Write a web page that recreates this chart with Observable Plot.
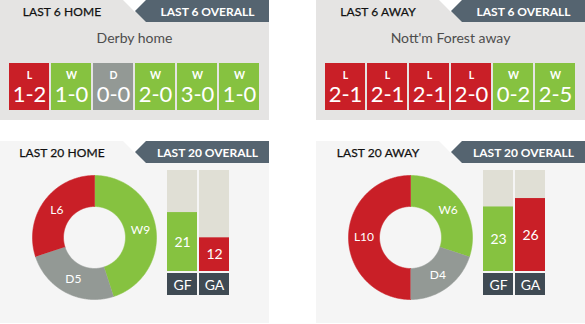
<!DOCTYPE html>
<html><head><meta charset="utf-8">
<script src="https://cdn.jsdelivr.net/npm/d3@7"></script>
<script src="https://cdn.jsdelivr.net/npm/@observablehq/plot@0.6"></script>
<style>
body{margin:0;background:#fff;font-family:Lato,"Open Sans",sans-serif;}
#root{position:relative;width:585px;height:324px;overflow:hidden;background:#fff;}
.panel{position:absolute;width:269px;}
.top{top:0;height:120px;background:#e5e4e3;}
.bottom{top:141px;height:182px;background:#f5f5f5;}
.notch{position:absolute;left:123px;top:0;width:23px;height:12px;background:#fff;clip-path:polygon(0 0,100% 0,52% 100%);}
.tab{position:absolute;left:135px;top:0;width:134px;height:22px;background:#556470;clip-path:polygon(0 50%,11px 0,100% 0,100% 100%,11px 100%);}
.tabtxt{position:absolute;left:146px;width:123px;top:6px;line-height:12px;font-size:12px;font-weight:700;color:#fff;text-align:center;white-space:nowrap;}
.ltab{position:absolute;left:0;width:124px;top:6px;line-height:12px;font-size:12px;font-weight:400;color:#111;text-align:center;white-space:nowrap;letter-spacing:0.1px;-webkit-text-stroke:0.25px #111;}
.sub{position:absolute;left:0;width:269px;top:31px;line-height:14px;font-size:14px;color:#4d4d4d;text-align:center;}
.slot{position:absolute;}
</style>
</head><body>
<div id="root"></div>
<script>
// ---- data ----
const topLeftTitle = "LAST 6 HOME", topRightTitle = "LAST 6 AWAY", topTab = "LAST 6 OVERALL";
const bottomLeftTitle = "LAST 20 HOME", bottomRightTitle = "LAST 20 AWAY", bottomTab = "LAST 20 OVERALL";
const homeTeam = "Derby home", awayTeam = "Nott'm Forest away";
const homeResults = ["L","W","D","W","W","W"];
const homeScores = ["1-2","1-0","0-0","2-0","3-0","1-0"];
const awayResults = ["L","L","L","L","W","W"];
const awayScores = ["2-1","2-1","2-1","2-0","0-2","2-5"];
const outcomeKeys = ["W","D","L"];
const homeLast20 = [9,5,6];
const awayLast20 = [6,4,10];
const goalKeys = ["GF","GA"];
const homeGoals = [21,12];
const awayGoals = [23,26];
const goalMax = 36;

// ---- styles ----
const GREEN = "#86c240", RED = "#c91f27", GREY = "#939995";
const outcomeColor = {domain: outcomeKeys, range: [GREEN, GREY, RED]};
const baseStyle = {background: "transparent", fontFamily: "Lato, 'Open Sans', sans-serif", overflow: "visible"};

const root = document.getElementById("root");
function el(cls, parent, text) { const d = document.createElement("div"); d.className = cls; if (text != null) d.textContent = text; parent.appendChild(d); return d; }
function place(node, parent, left, top) { const s = el("slot", parent); s.style.left = left + "px"; s.style.top = top + "px"; s.appendChild(node); }

function panel(cls, left, title, tab) {
  const p = el("panel " + cls, root);
  p.style.left = left + "px";
  el("notch", p); el("tab", p); el("tabtxt", p, tab); el("ltab", p, title);
  return p;
}

function resultsPlot(results, scores) {
  const data = results.map((r, i) => ({i, r, s: scores[i]}));
  return Plot.plot({
    width: 269, height: 47, margin: 0, style: baseStyle,
    x: {type: "band", domain: d3.range(results.length), range: [9, 259], paddingInner: 0.048, paddingOuter: 0, axis: null},
    color: outcomeColor,
    marks: [
      Plot.cell(data, {x: "i", fill: "r"}),
      Plot.text(data, {x: "i", frameAnchor: "top", dy: 8, text: "r", fill: "white", fontSize: 10.5, fontWeight: 700}),
      Plot.text(data, {x: "i", frameAnchor: "middle", dy: 8, text: "s", fill: "white", fontSize: 22})
    ]
  });
}

function donutPlot(values) {
  const R = 62, r0 = 31, half = 65;
  const arcs = d3.pie().sort(null)(values);
  const pts = [];
  arcs.forEach((a, k) => {
    const key = outcomeKeys[k];
    const n = Math.max(2, Math.ceil((a.endAngle - a.startAngle) / 0.01));
    for (let j = 0; j <= n; j++) { const t = a.startAngle + (a.endAngle - a.startAngle) * j / n; pts.push({key, x: R * Math.sin(t), y: -R * Math.cos(t)}); }
    for (let j = n; j >= 0; j--) { const t = a.startAngle + (a.endAngle - a.startAngle) * j / n; pts.push({key, x: r0 * Math.sin(t), y: -r0 * Math.cos(t)}); }
  });
  const labels = arcs.map((a, k) => { const m = (a.startAngle + a.endAngle) / 2, rm = (R + r0) / 2; return {key: outcomeKeys[k], label: outcomeKeys[k] + values[k], x: rm * Math.sin(m), y: -rm * Math.cos(m)}; });
  return Plot.plot({
    width: 2 * half, height: 2 * half, margin: 0, style: baseStyle,
    x: {domain: [-half, half], range: [0, 2 * half], axis: null},
    y: {domain: [-half, half], range: [0, 2 * half], axis: null},
    color: outcomeColor,
    marks: [
      Plot.line(pts, {x: "x", y: "y", z: "key", fill: "key", stroke: "key", strokeWidth: 0.6, curve: "linear"}),
      Plot.text(labels, {x: "x", y: "y", text: "label", fill: "white", fontSize: 12})
    ]
  });
}

function barsPlot(goals) {
  const data = goalKeys.map((k, i) => ({k, v: goals[i]}));
  return Plot.plot({
    width: 62, height: 101, margin: 0, style: baseStyle,
    x: {type: "band", domain: goalKeys, range: [0, 62], paddingInner: 0.065, paddingOuter: 0, axis: null},
    y: {domain: [0, goalMax], range: [101, 0], axis: null},
    color: {domain: goalKeys, range: [GREEN, RED]},
    marks: [
      Plot.cell(data, {x: "k", fill: "#e0dfd5"}),
      Plot.barY(data, {x: "k", y: "v", fill: "k"}),
      Plot.text(data, {x: "k", y: d => d.v / 2, text: d => String(d.v), fill: "white", fontSize: 14})
    ]
  });
}

function goalLabelPlot() {
  return Plot.plot({
    width: 62, height: 22, margin: 0, style: baseStyle,
    x: {type: "band", domain: goalKeys, range: [0, 62], paddingInner: 0.065, paddingOuter: 0, axis: null},
    marks: [
      Plot.cell(goalKeys, {x: d => d, fill: "#3f4a53"}),
      Plot.text(goalKeys, {x: d => d, text: d => d, fill: "white", fontSize: 14, dy: 1})
    ]
  });
}

// top panels
const tl = panel("top", 0, topLeftTitle, topTab);
el("sub", tl, homeTeam);
place(resultsPlot(homeResults, homeScores), tl, 0, 63);
const tr = panel("top", 316, topRightTitle, topTab);
el("sub", tr, awayTeam);
place(resultsPlot(awayResults, awayScores), tr, 0, 63);

// bottom panels
[[0, bottomLeftTitle, homeLast20, homeGoals], [316, bottomRightTitle, awayLast20, awayGoals]].forEach(([left, title, wdl, goals]) => {
  const p = panel("bottom", left, title, bottomTab);
  place(donutPlot(wdl), p, 29, 31);
  place(barsPlot(goals), p, 167, 29);
  place(goalLabelPlot(), p, 167, 132);
});
</script>
</body></html>
